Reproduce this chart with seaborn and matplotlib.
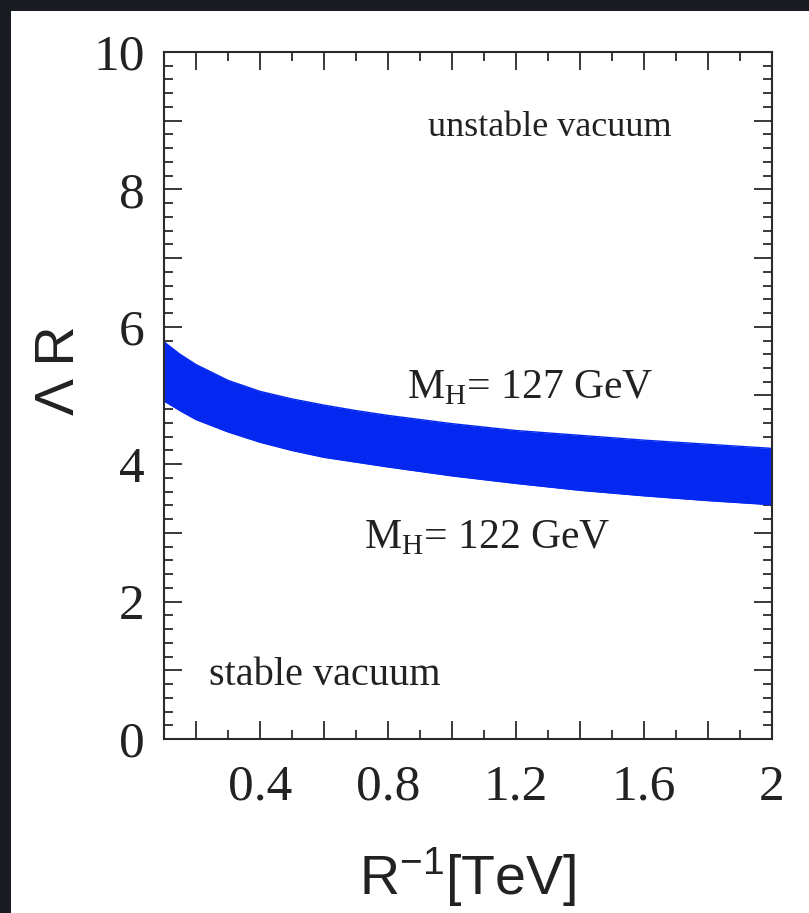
import matplotlib
matplotlib.use('Agg')
import numpy as np
import pandas as pd
import seaborn as sns
import matplotlib.pyplot as plt
from matplotlib.ticker import MultipleLocator, FuncFormatter

# band edges (R^-1 in TeV, Lambda*R)
r_inv = [0.1, 0.15, 0.2, 0.3, 0.4, 0.5, 0.6, 0.7, 0.8, 1.0, 1.2, 1.4, 1.6, 1.8, 2.0]
mh127 = [5.78, 5.60, 5.45, 5.22, 5.06, 4.95, 4.86, 4.78, 4.71, 4.59, 4.49, 4.42, 4.35, 4.29, 4.23]
mh122 = [4.92, 4.78, 4.65, 4.47, 4.32, 4.20, 4.10, 4.03, 3.96, 3.83, 3.72, 3.62, 3.54, 3.47, 3.41]

x_labels = {0.4: '0.4', 0.8: '0.8', 1.2: '1.2', 1.6: '1.6', 2.0: '2'}
y_labels = {0: '0', 2: '2', 4: '4', 6: '6', 8: '8', 10: '10'}

band = pd.DataFrame({'r': r_inv, 'hi': mh127, 'lo': mh122})

sns.set_style('ticks')
plt.rcParams['font.family'] = ['Liberation Serif', 'DejaVu Serif']
plt.rcParams['mathtext.fontset'] = 'custom'
plt.rcParams['mathtext.rm'] = 'Liberation Serif'
plt.rcParams['mathtext.sf'] = 'Liberation Sans'

blue = '#0428f0'
ink = '#2a2a2a'

fig = plt.figure(figsize=(8.09, 9.13), dpi=100)
fig.patch.set_facecolor('#181b1f')

# white card sitting on the dark frame
card = fig.add_axes([11 / 809, 0, 1 - 11 / 809, 1 - 11 / 913], zorder=-5)
card.set_facecolor('white')
card.set_xticks([])
card.set_yticks([])
for s in card.spines.values():
    s.set_visible(False)

ax = fig.add_axes([164 / 809, 1 - 739 / 913, 608 / 809, 687 / 913])
ax.set_facecolor('white')

sns.lineplot(data=band, x='r', y='hi', ax=ax, color=blue, lw=1)
sns.lineplot(data=band, x='r', y='lo', ax=ax, color=blue, lw=1)
ax.fill_between(band['r'], band['lo'], band['hi'], color=blue, lw=0)

ax.set_xlim(0.1, 2.0)
ax.set_ylim(0, 10)

ax.xaxis.set_major_locator(MultipleLocator(0.2))
ax.xaxis.set_minor_locator(MultipleLocator(0.1))
ax.yaxis.set_major_locator(MultipleLocator(1))
ax.yaxis.set_minor_locator(MultipleLocator(0.2))
ax.xaxis.set_major_formatter(FuncFormatter(lambda v, p: x_labels.get(round(v, 1), '')))
ax.yaxis.set_major_formatter(FuncFormatter(lambda v, p: y_labels.get(int(round(v)), '')))

ax.tick_params(which='both', direction='in', top=True, right=True, color=ink, width=1.3)
ax.tick_params(which='major', length=13, labelsize=37, labelcolor='#222')
ax.tick_params(which='minor', length=6.5)
ax.tick_params(axis='x', which='major', pad=18)
ax.tick_params(axis='y', which='major', pad=14)
for s in ax.spines.values():
    s.set_color(ink)
    s.set_linewidth(1.5)

ax.set_xlabel(r'$\mathsf{R^{-1}[TeV]}$', fontsize=40, color='#222')
ax.xaxis.set_label_coords(0.5, -0.155)
ax.xaxis.label.set_va('top')
ax.set_ylabel('Λ R', fontsize=40, family='Liberation Sans', color='#222')
ax.yaxis.set_label_coords(-0.171, 0.537)
ax.yaxis.label.set_va('center')

txt = dict(color='#222', family='Liberation Serif')
ax.text(0.925, 8.78, 'unstable vacuum', fontsize=26, **txt)
ax.text(0.86, 4.96, r'$\mathrm{M}_{\mathrm{H}}$= 127 GeV', fontsize=30, **txt)
ax.text(0.725, 2.78, r'$\mathrm{M}_{\mathrm{H}}$= 122 GeV', fontsize=30, **txt)
ax.text(0.24, 0.79, 'stable vacuum', fontsize=29, **txt)

fig.savefig('out.png', dpi=100, facecolor=fig.get_facecolor())
